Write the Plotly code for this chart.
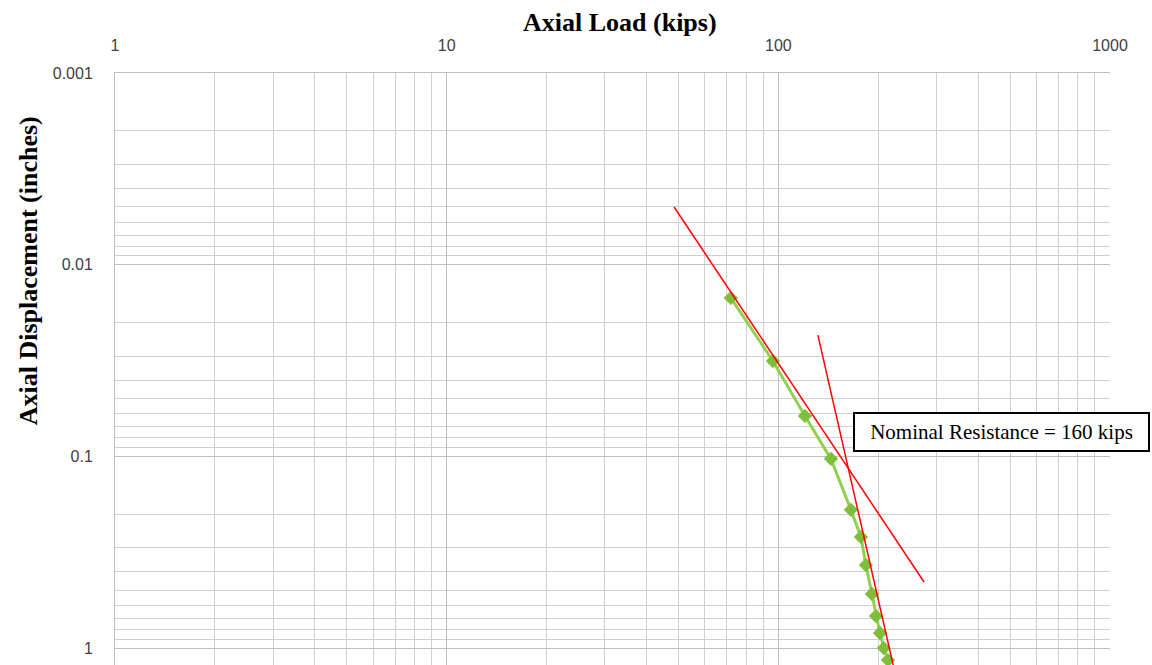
import numpy as np
import plotly.graph_objects as go

# Load test record: axial load (kips) vs. axial displacement (inches)
load_kips = [71.9, 96.3, 120.3, 144.1, 165.5, 177.4, 183.7, 191.5, 196.9, 202.5, 208.0, 214.0]
displacement_in = [0.0149, 0.0318, 0.0615, 0.103, 0.19, 0.263, 0.369, 0.522, 0.681, 0.834, 1.0, 1.154]

# Tangent lines used to locate the nominal resistance
tangent1_load = [48.5, 275.0]
tangent1_disp = [0.005, 0.452]
tangent2_load = [131.6, 223.7]
tangent2_disp = [0.0233, 1.3]

nominal_label = "Nominal Resistance = 160 kips"

x_major = [1, 10, 100, 1000]
y_major = [0.001, 0.01, 0.1, 1]
x_minor = [m * d for d in [1, 10, 100] for m in range(2, 10)]
y_minor = [m * d for d in [0.001, 0.01, 0.1, 1] for m in range(2, 10)]

fig = go.Figure()

fig.add_trace(go.Scatter(
    x=load_kips, y=displacement_in, mode="lines+markers",
    line=dict(color="#92D050", width=3),
    marker=dict(symbol="diamond", size=11, color="#7DBE3C"),
    showlegend=False,
))
fig.add_trace(go.Scatter(
    x=tangent1_load, y=tangent1_disp, mode="lines",
    line=dict(color="#FF0000", width=1.5), showlegend=False,
))
fig.add_trace(go.Scatter(
    x=tangent2_load, y=tangent2_disp, mode="lines",
    line=dict(color="#FF0000", width=1.5), showlegend=False,
))

grid_major = "#BFBFBF"
grid_minor = "#D0D0D0"
tick_font = dict(family="Liberation Sans, Arial, sans-serif", size=16, color="#404040")

fig.update_xaxes(
    type="log", side="top", range=[0, 3],
    tickmode="array", tickvals=x_major, ticktext=[str(v) for v in x_major],
    showgrid=True, gridcolor=grid_major, gridwidth=1,
    minor=dict(tickmode="array", tickvals=x_minor, showgrid=True, gridcolor=grid_minor, gridwidth=1),
    showline=True, linecolor=grid_major, linewidth=1, mirror=False,
    ticks="", tickfont=tick_font, ticklabelstandoff=15,
    zeroline=False,
)
fig.update_yaxes(
    type="log", range=[np.log10(1.225), -3],
    tickmode="array", tickvals=y_major, ticktext=["0.001", "0.01", "0.1", "1"],
    showgrid=True, gridcolor=grid_major, gridwidth=1,
    minor=dict(tickmode="array", tickvals=y_minor, showgrid=True, gridcolor=grid_minor, gridwidth=1),
    showline=True, linecolor=grid_major, linewidth=1,
    ticks="", tickfont=tick_font, ticklabelstandoff=18,
    zeroline=False,
)

title_font = dict(family="Liberation Serif, Times New Roman, serif", size=26, color="#000000")

fig.update_layout(
    width=1152, height=665,
    margin=dict(l=115, r=42, t=73, b=0),
    paper_bgcolor="white", plot_bgcolor="white",
    annotations=[
        dict(text="<b>Axial Load (kips)</b>", xref="paper", yref="paper",
             x=0.508, y=1.0, yshift=51, showarrow=False, font=title_font,
             xanchor="center", yanchor="middle"),
        dict(text="<b>Axial Displacement (inches)</b>", xref="paper", yref="paper",
             x=0.0, xshift=-87, y=0.665, textangle=-90, showarrow=False, font=title_font,
             xanchor="center", yanchor="middle"),
        dict(text=nominal_label, xref="paper", yref="paper",
             x=0.7417, y=0.3936, xanchor="left", yanchor="middle", showarrow=False,
             font=dict(family="Liberation Serif, Times New Roman, serif", size=21, color="#000000"),
             bgcolor="white", bordercolor="#000000", borderwidth=2, borderpad=6,
             width=281, align="center"),
    ],
)

fig.write_html("out.html")
